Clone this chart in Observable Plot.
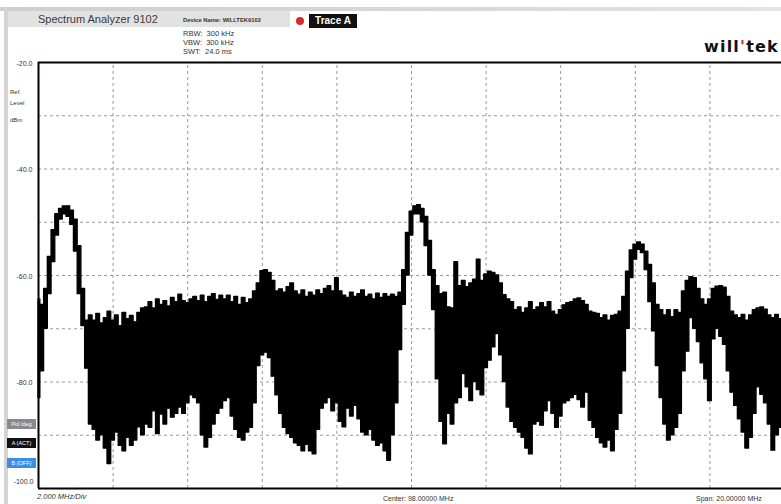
<!DOCTYPE html>
<html><head><meta charset="utf-8">
<script src="https://cdn.jsdelivr.net/npm/d3@7"></script>
<script src="https://cdn.jsdelivr.net/npm/@observablehq/plot@0.6"></script>
<style>
body{margin:0;background:#fff;}
#wrap{position:relative;width:781px;height:504px;overflow:hidden;font-family:"Liberation Sans",Arial,sans-serif;background:#fff;}
#chart{position:absolute;left:0;top:0;}
.t{position:absolute;white-space:nowrap;line-height:1;}
.btn{position:absolute;left:7px;width:29px;color:#fff;font-size:5.5px;text-align:center;line-height:10px;height:10px;}
</style></head><body>
<div id="wrap">
  <div style="position:absolute;left:0;top:7px;width:781px;height:4px;background:linear-gradient(to right,#cfcfcf,#d8d8d8 60%,#e4e4e4);"></div>
  <div style="position:absolute;left:4px;top:7px;width:4px;height:497px;background:#d4d4d4;"></div>
  <div style="position:absolute;left:8px;top:11px;width:282px;height:16px;background:#e2e2e2;"></div>
  <div id="chart"></div>
  <div class="t" style="left:38px;top:14px;font-size:11px;color:#3a3a3a;">Spectrum Analyzer 9102</div>
  <div class="t" style="left:183px;top:18px;font-size:5.8px;font-weight:bold;color:#333;">Device Name: WILLTEK9102</div>
  <div class="t" style="left:183px;top:30px;font-size:7.5px;color:#333;">RBW:&nbsp; 300 kHz</div>
  <div class="t" style="left:183px;top:39px;font-size:7.5px;color:#333;">VBW:&nbsp; 300 kHz</div>
  <div class="t" style="left:183px;top:48px;font-size:7.5px;color:#333;">SWT:&nbsp; 24.0 ms</div>
  <div style="position:absolute;left:296px;top:17px;width:8px;height:8px;border-radius:50%;background:#d42a2a;"></div>
  <div class="t" style="left:309px;top:14px;width:48px;height:14px;background:#111;color:#fff;font-size:10px;font-weight:bold;line-height:14px;text-align:center;">Trace A</div>
  <div class="t" style="left:704px;top:39px;font-family:'DejaVu Sans',sans-serif;font-weight:bold;font-size:16px;letter-spacing:1.2px;color:#111;">will<span style="color:#d42a2a;">'</span>tek</div>
  <div class="t" style="left:10px;top:89px;font-size:6px;color:#333;">Ref.</div>
  <div class="t" style="left:10px;top:100px;font-size:6px;color:#333;">Level</div>
  <div class="t" style="left:10px;top:117px;font-size:6px;color:#333;">dBm</div>
  <div class="btn" style="top:419px;background:#8a8a8a;">Pol /deg</div>
  <div class="btn" style="top:438px;background:#111;">A (ACT)</div>
  <div class="btn" style="top:458px;background:#3a8ee6;">B (OFF)</div>
  <div class="t" style="left:37px;top:493px;font-size:7.5px;font-style:italic;color:#333;">2.000 MHz/Div</div>
  <div class="t" style="left:383px;top:495px;font-size:7px;color:#333;">Center: 98.00000 MHz</div>
  <div class="t" style="left:696px;top:495px;font-size:7px;color:#333;">Span: 20.00000 MHz</div>
</div>
<script>
// Sweep: 88–108 MHz sampled every 0.1 MHz (display bins, min/max per bin)
const startMHz = 88;
const stopMHz = 108;
const stepMHz = 0.1;
const refLevel = -20;
const bottomLevel = -100;
// upper edge of trace per bin (dBm)
const hiDbm = [
 -64.5,-65.5,-62.5,-56.5,-51.5,-48.5,-47.5,-47,-47,-47.8,
 -49.5,-54.5,-62.5,-68.5,-67.5,-68.5,-67.2,-69,-68,-66.8,
 -68.5,-67.5,-69.5,-67,-68.2,-67.6,-68.8,-67,-66.2,-66,
 -65,-66.2,-64.5,-65.5,-64.8,-65.8,-64.2,-65,-63.6,-64.8,
 -65.2,-64.5,-64,-64.8,-63.8,-65,-64,-63.5,-64.6,-63.8,
 -64.5,-63.8,-65,-64,-65.5,-64.2,-65.2,-64.5,-63,-61.5,
 -59.2,-59,-59.5,-61,-63,-62.6,-63.2,-62.2,-61.5,-63,
 -63.6,-62.8,-64,-63.2,-63.8,-62.8,-63.5,-62.5,-62,-63,
 -60.5,-63,-63.8,-64.2,-63.2,-64,-63.5,-62.8,-64,-63.6,
 -64.5,-63.4,-64.2,-63.5,-64,-63.6,-64,-63.2,-59,-52,
 -48,-47,-46.8,-47.5,-49,-53.5,-59,-62,-63.5,-63.2,
 -66,-66.2,-57.5,-62,-61,-62.2,-61.5,-60.8,-57,-61,
 -59.8,-59.3,-59.5,-60,-61.5,-63.7,-64.5,-65,-66.5,-66,
 -67,-66.2,-65,-66.5,-66,-65.2,-66,-65,-66.8,-67.4,
 -66.5,-65.6,-65.2,-65,-64.5,-64.3,-64.8,-65.5,-66.8,-67,
 -67.2,-68,-67.5,-68.5,-67.6,-67.4,-66.8,-64,-59.3,-55.3,
 -54.2,-53.8,-54.2,-55.5,-58,-61.5,-65.5,-66.5,-67.5,-66.5,
 -67.8,-66.5,-67,-63,-61,-60.3,-60.5,-62.5,-64.5,-65.5,
 -64.5,-62.5,-62.1,-62,-62.3,-64,-66.8,-67.5,-68,-67.4,
 -68.5,-67.5,-66.5,-66.2,-66,-66.4,-67.5,-68,-67.4,-68.2,
 -68
];
// lower edge of trace per bin (dBm)
const loDbm = [
 -83,-78,-70,-63.5,-57.5,-52.5,-49.5,-48.5,-49,-50.5,
 -55.5,-63.5,-69.5,-77.5,-88,-89,-91,-90,-92.5,-95.4,
 -91,-89.5,-92,-93,-90.5,-92,-91,-88.5,-90,-88,
 -88.6,-85.5,-89.8,-86.1,-88,-85,-86.7,-86,-84.8,-86,
 -84,-82.5,-83,-84,-90,-92.3,-90.5,-88,-86,-85,
 -83.6,-83,-86.5,-89,-90.5,-91,-89.5,-88.6,-84,-77,
 -75,-74.5,-75.5,-79,-82.5,-86,-88.6,-89.8,-90.5,-91.5,
 -92,-93,-91.8,-93,-93.6,-89,-85,-84,-83,-85.5,
 -84,-87.5,-88.5,-85,-86.5,-84.5,-87,-89.5,-90,-89,
 -91,-92,-91.5,-93,-94.8,-90,-84,-74,-65.5,-60,
 -52.5,-48.5,-48.5,-50,-54.5,-60,-66.5,-79.5,-87.5,-91.7,
 -86,-88,-84,-83,-78.5,-81,-83.6,-80,-81.5,-82.5,
 -77.4,-76,-73.5,-71,-75,-80,-84.8,-87.5,-88.6,-89.5,
 -90.5,-92.5,-93.6,-88,-87.5,-88.2,-85.5,-83.6,-86,-88.6,
 -86.5,-84,-83.6,-83,-82.4,-83.4,-84.8,-82,-87.3,-88.6,
 -90.5,-91.5,-92.3,-91,-93,-89,-86,-78,-70,-60.5,
 -57,-55.2,-55.8,-59,-65,-70.5,-77,-83,-88,-91,
 -90,-88.6,-86,-78,-74.3,-68,-70,-72.5,-76.5,-79.5,
 -83.6,-72,-70,-71.5,-73,-78,-82,-84.5,-87,-89.5,
 -92.5,-90.5,-86,-81,-82.4,-84,-88,-92.9,-90,-88.6,
 -89
];
const yLabelTicks = [-20, -40, -60, -80];
const yLabelBottom = [-100];
const yGrid = [-30, -40, -50, -60, -70, -80, -90];
const xGrid = [90, 92, 94, 96, 98, 100, 102, 104, 106];

const trace = hiDbm.map((h, i) => ({f: startMHz + i * stepMHz, hi: h, lo: loDbm[i]}));

const chart = Plot.plot({
  width: 781,
  height: 504,
  x: {domain: [startMHz, stopMHz], range: [38, 784], axis: null},
  y: {domain: [bottomLevel, refLevel], range: [488, 62], axis: null},
  style: {background: "transparent", overflow: "visible", fontFamily: "'Liberation Sans', Arial, sans-serif"},
  marks: [
    Plot.ruleY(yGrid, {x1: startMHz, x2: stopMHz, stroke: "#9a9a9a", strokeDasharray: "3,3"}),
    Plot.ruleX(xGrid, {y1: bottomLevel, y2: refLevel, stroke: "#9a9a9a", strokeDasharray: "3,3"}),
    Plot.areaY(trace, {x: "f", y1: "lo", y2: "hi", curve: "step", fill: "#000", stroke: "#000", strokeWidth: 1.3}),
    Plot.ruleY([refLevel, bottomLevel], {x1: startMHz, x2: stopMHz, stroke: "#000", strokeWidth: 2}),
    Plot.ruleX([startMHz], {y1: bottomLevel, y2: refLevel, stroke: "#000", strokeWidth: 2}),
    Plot.axisY(yLabelTicks, {anchor: "left", tickSize: 0, tickPadding: 8, fontSize: 7, dy: 1, fill: "#333", tickFormat: d => d.toFixed(1), label: null}),
    Plot.axisY(yLabelBottom, {anchor: "left", tickSize: 0, tickPadding: 7, fontSize: 7, dy: -7, fill: "#333", tickFormat: d => d.toFixed(1), label: null})
  ]
});
document.getElementById("chart").appendChild(chart);
</script>
</body></html>
